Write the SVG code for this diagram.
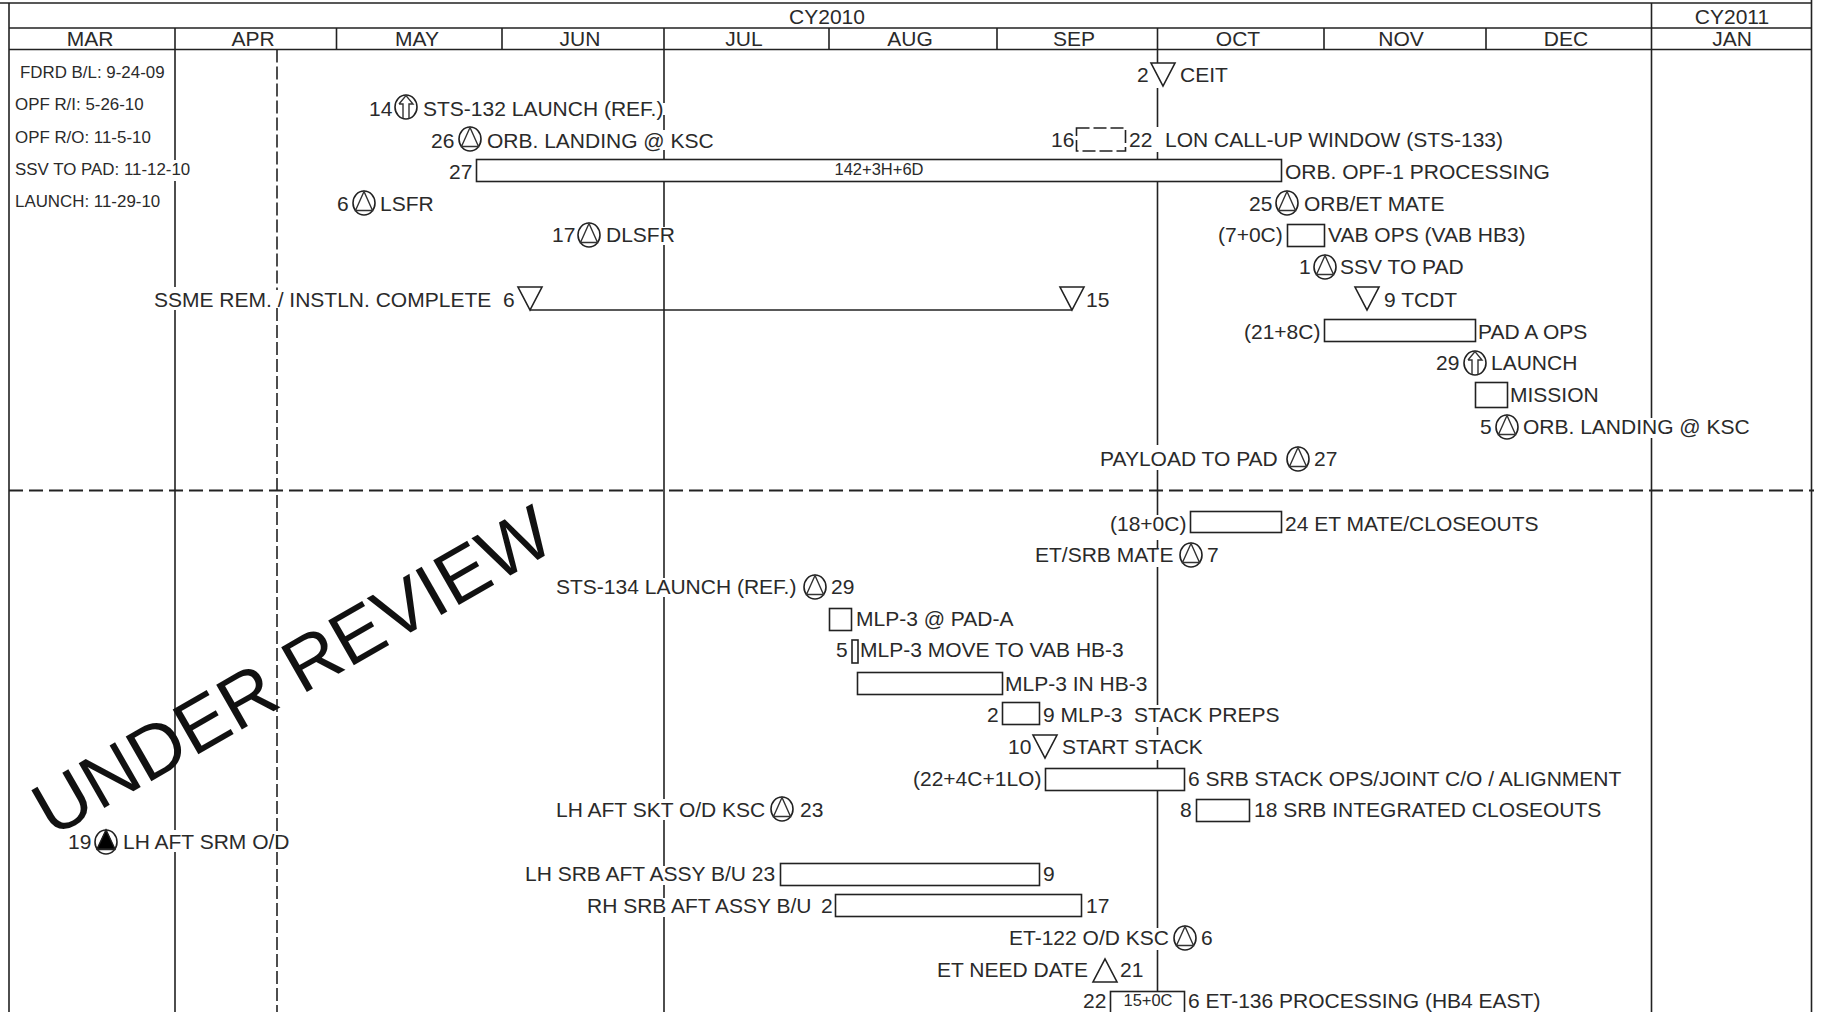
<svg xmlns="http://www.w3.org/2000/svg" width="1826" height="1012" viewBox="0 0 1826 1012">
<style>
text{font-family:"Liberation Sans",Arial,sans-serif;font-size:21px;fill:#2a2a2a}
.s{font-size:16.900px}
.t{font-size:16.500px}
.m{text-anchor:middle}
.l{fill:none;stroke:#222;stroke-width:1.6}
.b{fill:#fff;stroke:#222;stroke-width:1.6}
.d{fill:none;stroke:#222;stroke-width:1.6;stroke-dasharray:13 4}
.h{fill:none;stroke:#222;stroke-width:2;stroke-dasharray:14 6}
.i{fill:none;stroke:#333;stroke-width:1.4}
.k{fill:#000;stroke:#222;stroke-width:1.4}
</style>
<defs>
<g id="ms"><ellipse class="b" cx="0" cy="0" rx="11" ry="12"/><path class="i" d="M0-11.500L-8.500 7.500H8.500Z"/></g>
<g id="ml"><ellipse class="b" cx="0" cy="0" rx="11" ry="12"/><path class="i" d="M-7-3L0-11.500L7-3H3V11.500M-7-3H-3V11.500"/></g>
<path id="dn" class="b" d="M-12 0H12L0 23Z"/>
<path id="up" class="b" d="M-12 23H12L0 0Z"/>
</defs>
<g id="grid">
<path class="l" d="M0 3H1812M9 28H1812M9 49.500H1812M9 3V1012M1811.500 0V1012M1651.500 3V418M1651.500 438V1012"/>
<path class="l" d="M175 28V160M175 181V287M175 310V830M175 852V1012M336.500 28V49.500M502 28V49.500M664 28V103M664 115V130M664 150V227M664 245V578M664 597V799M664 820V866M664 885V898M664 917V1012M829 28V49.500M997 28V49.500M1157.500 28V63M1157.500 88V127M1157.500 152V445M1157.500 470V515M1157.500 540V548M1157.500 567V705M1157.500 727V735M1157.500 760V928M1157.500 950V992M1324 28V49.500M1486 28V49.500"/>
<path class="d" d="M277 49.500V290M277 308V1012"/>
<path class="h" d="M9 490.500H1814"/>
</g>
<g id="header">
<text class="m" x="827" y="24">CY2010</text><text class="m" x="1732" y="24">CY2011</text>
<text class="m" x="90" y="46">MAR</text><text class="m" x="253" y="46">APR</text><text class="m" x="417" y="46">MAY</text><text class="m" x="580" y="46">JUN</text><text class="m" x="744" y="46">JUL</text><text class="m" x="910" y="46">AUG</text><text class="m" x="1074" y="46">SEP</text><text class="m" x="1238" y="46">OCT</text><text class="m" x="1401" y="46">NOV</text><text class="m" x="1566" y="46">DEC</text><text class="m" x="1732" y="46">JAN</text>
</g>
<g id="dates">
<text class="s" x="20" y="78">FDRD B/L: 9-24-09</text><text class="s" x="15" y="110">OPF R/I: 5-26-10</text><text class="s" x="15" y="143">OPF R/O: 11-5-10</text><text class="s" x="15" y="175">SSV TO PAD: 11-12-10</text><text class="s" x="15" y="207">LAUNCH: 11-29-10</text>
</g>
<g id="n-ceit"><text x="1137" y="82">2</text><use href="#dn" x="1163" y="63"/><text x="1180" y="82">CEIT</text></g>
<g id="n-sts132"><text x="369" y="116">14</text><use href="#ml" x="406" y="107"/><text x="423" y="116">STS-132 LAUNCH (REF.)</text></g>
<g id="n-land1"><text x="431" y="148">26</text><use href="#ms" x="470" y="139"/><text x="487" y="148">ORB. LANDING @ KSC</text></g>
<g id="n-lon"><text x="1051" y="147">16</text><rect class="d" x="1076.500" y="128" width="49" height="23"/><text x="1129" y="147">22</text><text x="1165" y="147">LON CALL-UP WINDOW (STS-133)</text></g>
<g id="n-opf"><text x="449" y="179">27</text><rect class="b" x="476.500" y="159.500" width="805" height="22"/><text class="t m" x="879" y="175">142+3H+6D</text><text x="1285" y="179">ORB. OPF-1 PROCESSING</text></g>
<g id="n-lsfr"><text x="337" y="211">6</text><use href="#ms" x="364" y="203"/><text x="380" y="211">LSFR</text></g>
<g id="n-et"><text x="1249" y="211">25</text><use href="#ms" x="1287" y="203"/><text x="1304" y="211">ORB/ET MATE</text></g>
<g id="n-dlsfr"><text x="552" y="242">17</text><use href="#ms" x="589" y="235"/><text x="606" y="242">DLSFR</text></g>
<g id="n-vab"><text x="1218" y="242">(7+0C)</text><rect class="b" x="1287.500" y="224.500" width="37" height="22"/><text x="1328" y="242">VAB OPS (VAB HB3)</text></g>
<g id="n-ssv"><text x="1299" y="274">1</text><use href="#ms" x="1325" y="267"/><text x="1340" y="274">SSV TO PAD</text></g>
<g id="n-ssme"><text x="154" y="307">SSME REM. / INSTLN. COMPLETE</text><text x="503" y="307">6</text><use href="#dn" x="530" y="287"/><use href="#dn" x="1072" y="287"/><text x="1086" y="307">15</text></g>
<g id="n-tcdt"><use href="#dn" x="1367" y="287"/><text x="1384" y="307">9 TCDT</text></g>
<g id="n-pad"><text x="1244" y="339">(21+8C)</text><rect class="b" x="1324.500" y="319.500" width="151" height="22"/><text x="1478" y="339">PAD A OPS</text></g>
<g id="n-launch"><text x="1436" y="370">29</text><use href="#ml" x="1475" y="363"/><text x="1491" y="370">LAUNCH</text></g>
<g id="n-mission"><rect class="b" x="1475.500" y="382.500" width="32" height="25"/><text x="1510" y="402">MISSION</text></g>
<g id="n-land2"><text x="1480" y="434">5</text><use href="#ms" x="1507" y="427"/><text x="1523" y="434">ORB. LANDING @ KSC</text></g>
<g id="n-payload"><text x="1100" y="466">PAYLOAD TO PAD</text><use href="#ms" x="1298" y="459"/><text x="1314" y="466">27</text></g>
<g id="n-etmate"><text x="1110" y="531">(18+0C)</text><rect class="b" x="1190.500" y="511.500" width="91" height="21"/><text x="1285" y="531">24 ET MATE/CLOSEOUTS</text></g>
<g id="n-etsrb"><text x="1035" y="562">ET/SRB MATE</text><use href="#ms" x="1191" y="555"/><text x="1207" y="562">7</text></g>
<g id="n-sts134"><text x="556" y="594">STS-134 LAUNCH (REF.)</text><use href="#ms" x="815" y="587"/><text x="831" y="594">29</text></g>
<g id="n-mlp1"><rect class="b" x="829.500" y="608.500" width="22" height="22"/><text x="856" y="626">MLP-3 @ PAD-A</text></g>
<g id="n-mlp2"><text x="836" y="657">5</text><rect class="b" x="852" y="640" width="6" height="23"/><text x="860" y="657">MLP-3 MOVE TO VAB HB-3</text></g>
<g id="n-mlp3"><rect class="b" x="857.500" y="672.500" width="145" height="22"/><text x="1005" y="691">MLP-3 IN HB-3</text></g>
<g id="n-mlp4"><text x="987" y="722">2</text><rect class="b" x="1002.500" y="702.500" width="37" height="22"/><text x="1043" y="722" xml:space="preserve">9 MLP-3  STACK PREPS</text></g>
<g id="n-start"><text x="1008" y="754">10</text><use href="#dn" x="1045" y="735"/><text x="1062" y="754">START STACK</text></g>
<g id="n-srb"><text x="913" y="786">(22+4C+1LO)</text><rect class="b" x="1045.500" y="768.500" width="139" height="22"/><text x="1188" y="786">6 SRB STACK OPS/JOINT C/O / ALIGNMENT</text></g>
<g id="n-close"><text x="1180" y="817">8</text><rect class="b" x="1196.500" y="799.500" width="53" height="22"/><text x="1254" y="817">18 SRB INTEGRATED CLOSEOUTS</text></g>
<g id="n-skt"><text x="556" y="817">LH AFT SKT O/D KSC</text><use href="#ms" x="782" y="809"/><text x="800" y="817">23</text></g>
<g id="n-srm"><text x="68" y="849">19</text><use href="#ms" x="106" y="842"/><path class="k" d="M106 830L97 849H115Z"/><text x="123" y="849">LH AFT SRM O/D</text></g>
<g id="n-lhsrb"><text x="525" y="881">LH SRB AFT ASSY B/U 23</text><rect class="b" x="780.500" y="863.500" width="259" height="22"/><text x="1043" y="881">9</text></g>
<g id="n-rhsrb"><text x="587" y="913">RH SRB AFT ASSY B/U</text><text x="821" y="913">2</text><rect class="b" x="835.500" y="894.500" width="246" height="22"/><text x="1086" y="913">17</text></g>
<g id="n-et122"><text x="1009" y="945">ET-122 O/D KSC</text><use href="#ms" x="1185" y="938"/><text x="1201" y="945">6</text></g>
<g id="n-etneed"><text x="937" y="977">ET NEED DATE</text><use href="#up" x="1105" y="959"/><text x="1120" y="977">21</text></g>
<g id="n-et136"><text x="1083" y="1008">22</text><rect class="l" x="1110.500" y="991.500" width="74" height="30"/><text class="t m" x="1148" y="1006">15+0C</text><text x="1188" y="1008">6 ET-136 PROCESSING (HB4 EAST)</text></g>
<g id="connectors"><path class="l" d="M530 310H1072"/></g>
<text id="watermark" transform="translate(52 838) rotate(-29.800)" style="font-size:75px;fill:#111">UNDER REVIEW</text>
</svg>
